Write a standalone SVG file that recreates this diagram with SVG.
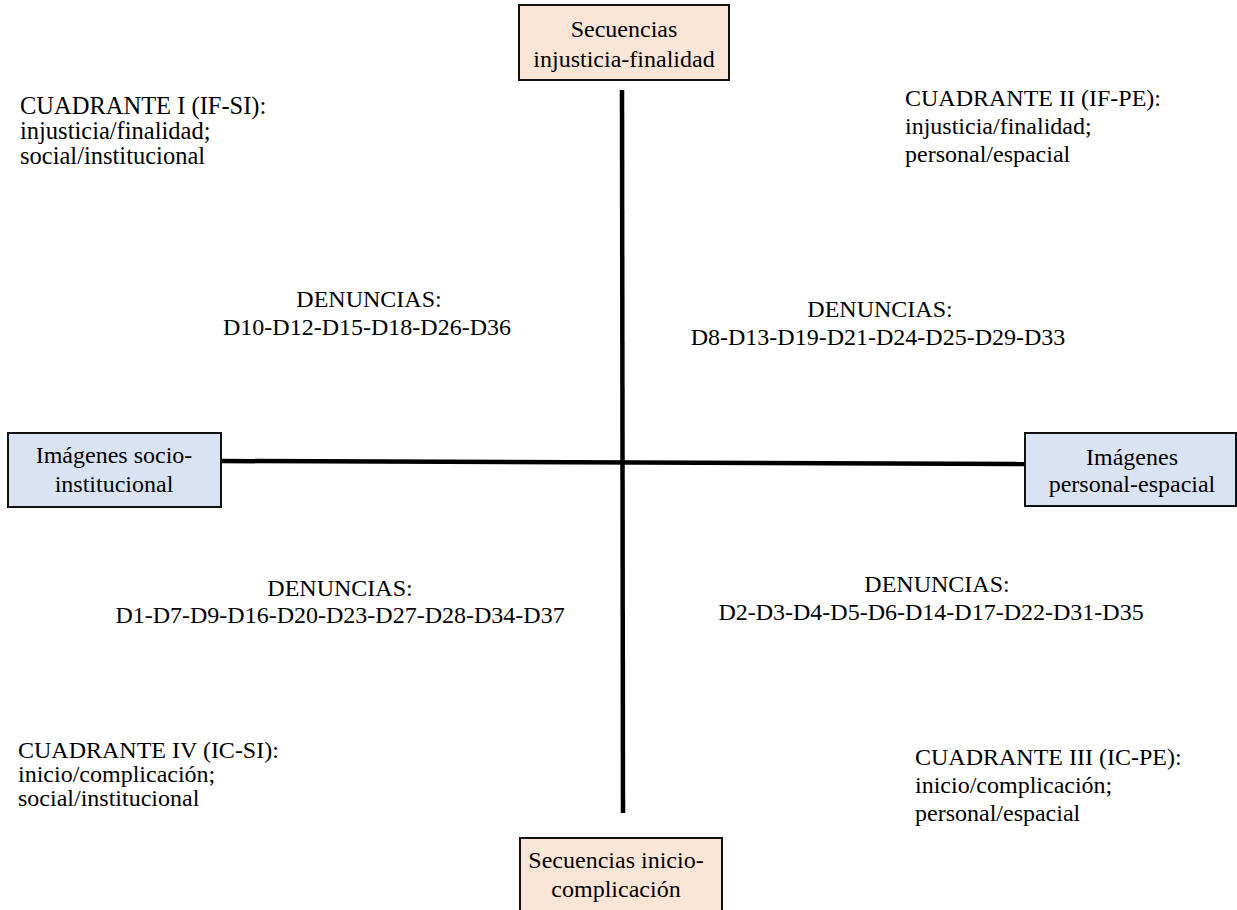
<svg xmlns="http://www.w3.org/2000/svg" width="1237" height="910" viewBox="0 0 1237 910">
<style>
text{font-family:"Liberation Serif","Times New Roman",serif;font-size:24px;fill:#000}
.c{text-anchor:middle}
.peach{fill:#FBE5D6;stroke:#111;stroke-width:2}
.blue{fill:#DAE3F3;stroke:#111;stroke-width:2}
.axis{stroke:#000;stroke-width:4.5;fill:none}
</style>
<rect width="1237" height="910" fill="#fff"/>
<g id="connectors">
<line class="axis" x1="622" y1="90" x2="623" y2="813"/>
<line class="axis" x1="221" y1="461" x2="1025" y2="464"/>
</g>
<g id="node-top">
<rect class="peach" x="519" y="5" width="210" height="75"/>
<text class="c" x="624" y="37">Secuencias<tspan x="624" dy="30">injusticia-finalidad</tspan></text>
</g>
<g id="node-left">
<rect class="blue" x="8" y="433" width="213" height="74"/>
<text class="c" x="114" y="463">Imágenes socio-<tspan x="114" dy="29">institucional</tspan></text>
</g>
<g id="node-right">
<rect class="blue" x="1025" y="433" width="211" height="73"/>
<text class="c" x="1132" y="465">Imágenes<tspan x="1132" dy="27">personal-espacial</tspan></text>
</g>
<g id="node-bottom">
<rect class="peach" x="520" y="838" width="202" height="80"/>
<text class="c" x="616" y="868">Secuencias inicio-<tspan x="616" dy="29">complicación</tspan></text>
</g>
<g id="quadrant-1">
<text x="20" y="114" style="font-size:24.5px">CUADRANTE I (IF-SI):<tspan x="20" dy="25">injusticia/finalidad;</tspan><tspan x="20" dy="25">social/institucional</tspan></text>
</g>
<g id="quadrant-2">
<text x="905" y="106">CUADRANTE II (IF-PE):<tspan x="905" dy="28">injusticia/finalidad;</tspan><tspan x="905" dy="28">personal/espacial</tspan></text>
</g>
<g id="quadrant-4">
<text x="18" y="758">CUADRANTE IV (IC-SI):<tspan x="18" dy="24">inicio/complicación;</tspan><tspan x="18" dy="24">social/institucional</tspan></text>
</g>
<g id="quadrant-3">
<text x="915" y="765">CUADRANTE III (IC-PE):<tspan x="915" dy="28">inicio/complicación;</tspan><tspan x="915" dy="28">personal/espacial</tspan></text>
</g>
<g id="denuncias-1">
<text class="c" x="369" y="307">DENUNCIAS:<tspan x="367" dy="28">D10-D12-D15-D18-D26-D36</tspan></text>
</g>
<g id="denuncias-2">
<text class="c" x="880" y="317">DENUNCIAS:<tspan x="878" dy="28">D8-D13-D19-D21-D24-D25-D29-D33</tspan></text>
</g>
<g id="denuncias-4">
<text class="c" x="340" y="596">DENUNCIAS:<tspan x="340" dy="27">D1-D7-D9-D16-D20-D23-D27-D28-D34-D37</tspan></text>
</g>
<g id="denuncias-3">
<text class="c" x="937" y="592">DENUNCIAS:<tspan x="931" dy="28">D2-D3-D4-D5-D6-D14-D17-D22-D31-D35</tspan></text>
</g>
</svg>
